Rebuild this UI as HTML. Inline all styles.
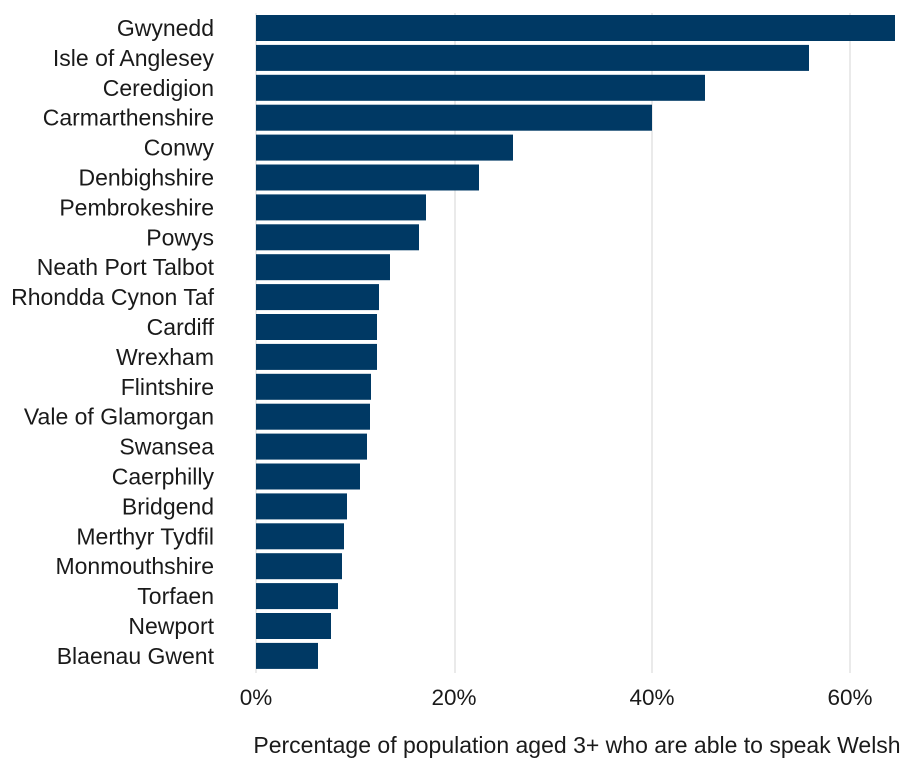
<!DOCTYPE html>
<html><head><meta charset="utf-8"><style>
html,body{margin:0;padding:0;background:#fff;}
svg{display:block;}
text{font-family:"Liberation Sans",Arial,sans-serif;fill:#1a1a1a;}
</style></head><body>
<svg width="915" height="767" xmlns="http://www.w3.org/2000/svg">
<g stroke="#e3e3e3" stroke-width="1.5">
<line x1="256" y1="13" x2="256" y2="673"/>
<line x1="455" y1="13" x2="455" y2="673"/>
<line x1="652" y1="13" x2="652" y2="673"/>
<line x1="850" y1="13" x2="850" y2="673"/>
</g>
<g fill="#003964" id="bars"></g>
<g font-size="23" text-anchor="end" id="labels"></g>
<g font-size="22.5" text-anchor="middle">
<text x="256" y="705">0%</text>
<text x="454" y="705">20%</text>
<text x="652" y="705">40%</text>
<text x="850" y="705">60%</text>
</g>
<text x="577" y="753" font-size="23" text-anchor="middle">Percentage of population aged 3+ who are able to speak Welsh</text>
<script>
var d=[["Gwynedd",895],["Isle of Anglesey",809],["Ceredigion",705],["Carmarthenshire",652],["Conwy",513],["Denbighshire",479],["Pembrokeshire",426],["Powys",419],["Neath Port Talbot",390],["Rhondda Cynon Taf",379],["Cardiff",377],["Wrexham",377],["Flintshire",371],["Vale of Glamorgan",370],["Swansea",367],["Caerphilly",360],["Bridgend",347],["Merthyr Tydfil",344],["Monmouthshire",342],["Torfaen",338],["Newport",331],["Blaenau Gwent",318]];
var ns="http://www.w3.org/2000/svg",b=document.getElementById("bars"),l=document.getElementById("labels");
d.forEach(function(r,i){var y=15+i*29.9;
var e=document.createElementNS(ns,"rect");e.setAttribute("x",256);e.setAttribute("y",y);e.setAttribute("width",r[1]-256);e.setAttribute("height",26);b.appendChild(e);
var t=document.createElementNS(ns,"text");t.setAttribute("x",214);t.setAttribute("y",y+21);t.textContent=r[0];l.appendChild(t);});
</script>
</svg>
</body></html>
